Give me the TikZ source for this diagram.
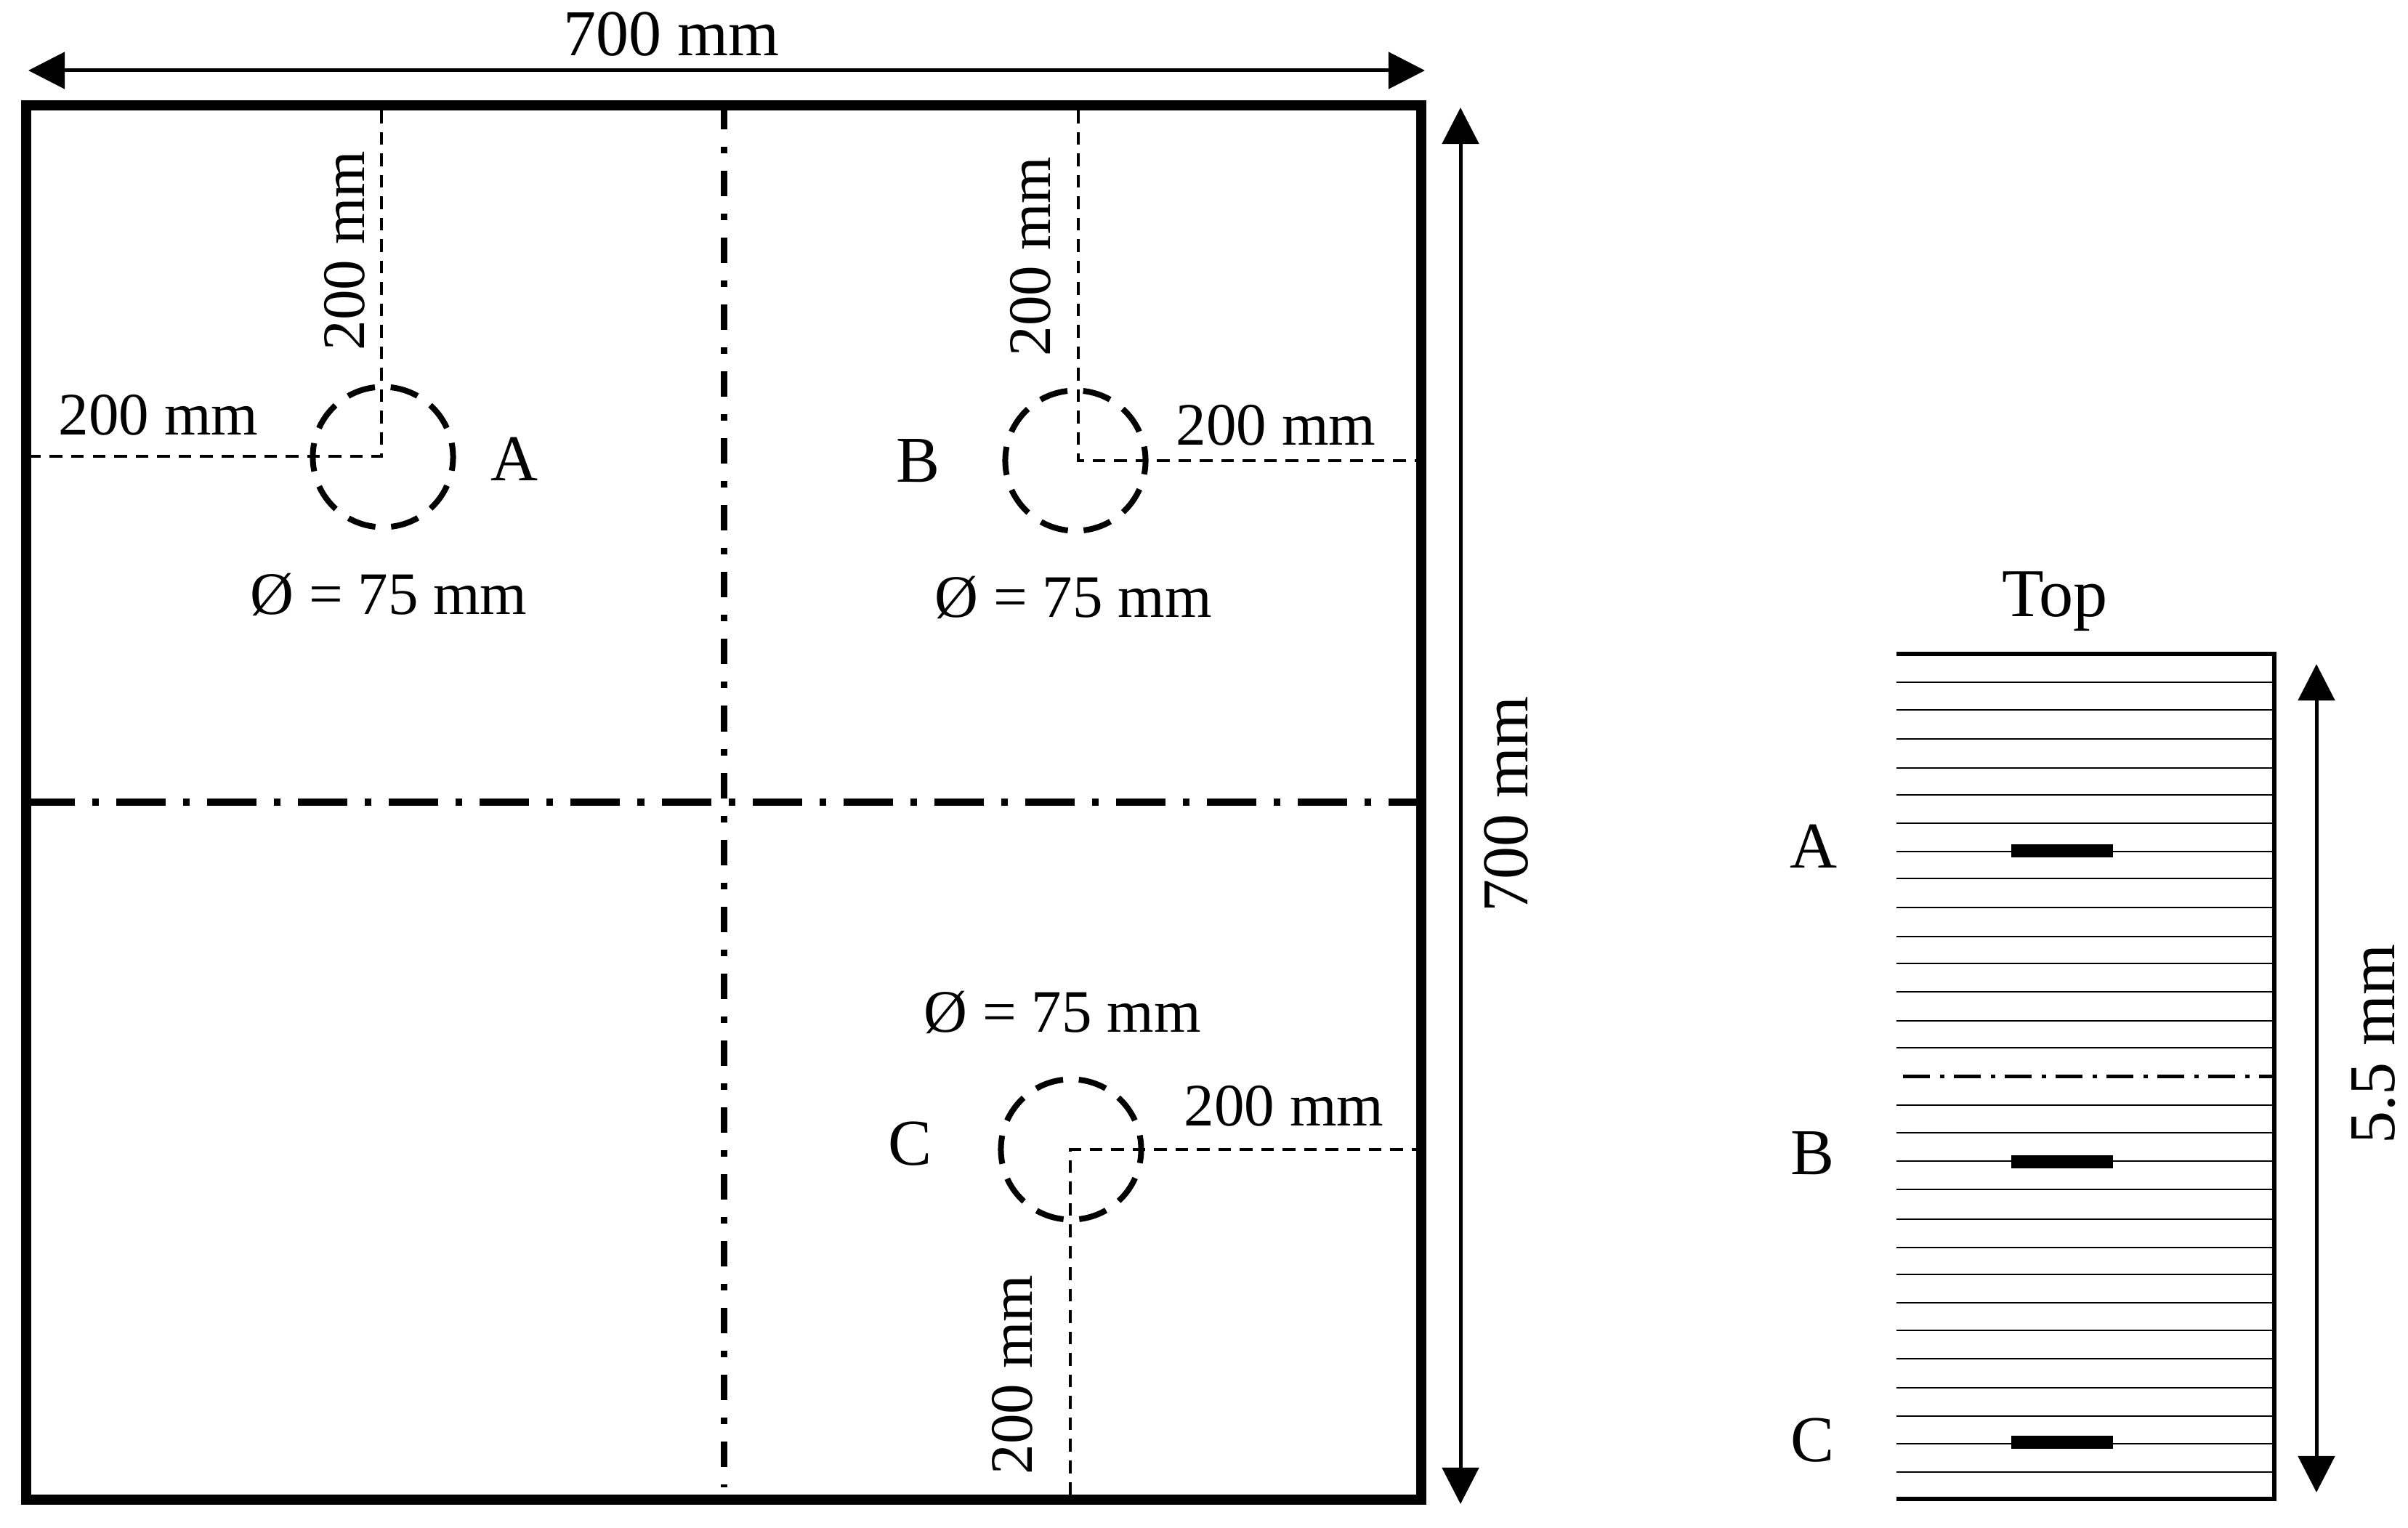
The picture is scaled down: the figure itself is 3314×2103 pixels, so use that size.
\documentclass[tikz,border=0pt]{standalone}
\usepackage{fontspec}
\setmainfont{Liberation Serif}
\usetikzlibrary{arrows.meta}
\begin{document}
\begin{tikzpicture}[x=0.01cm,y=-0.01cm,line cap=butt,line join=miter,
  dimline/.style={line width=0.05cm,{Triangle[length=0.5cm,width=0.5cm]}-{Triangle[length=0.5cm,width=0.5cm]}},
  guideline/.style={line width=0.045cm,dash pattern=on 0.175cm off 0.12cm},
  holeline/.style={draw,circle,inner sep=0pt,minimum size=1.93cm,line width=0.08cm,dash pattern=on 0.39cm off 0.217cm,dash phase=0.195cm},
  lbl/.style={inner sep=0pt,font=\fontsize{25.6pt}{25.6pt}\selectfont},
  sub/.style={inner sep=0pt,font=\fontsize{23.6pt}{23.6pt}\selectfont}]
\useasboundingbox (0,0) rectangle (3314,2103);
% plate
\draw[line width=0.14cm] (36,145) rectangle (1956,2064);
\coordinate (topmid) at (996,143);
\coordinate (botmid) at (996,2047);
\coordinate (leftmid) at (35,1104);
\coordinate (rightmid) at (1950,1104);
\draw[line width=0.09cm,dash pattern=on 0.35cm off 0.24cm on 0.09cm off 0.24cm] (topmid) -- (botmid);
\draw[line width=0.1cm,dash pattern=on 0.68cm off 0.24cm on 0.09cm off 0.24cm] (leftmid) -- (rightmid);
% holes
\node[holeline] (holeA) at (527,629) {};
\node[holeline] (holeB) at (1480,634) {};
\node[holeline] (holeC) at (1474,1582) {};
\coordinate (cornerA) at (525,628);
\coordinate (cornerB) at (1484,634);
\coordinate (cornerC) at (1473,1582);
\coordinate (edgeAt) at (525,152);
\coordinate (edgeAl) at (43,628);
\coordinate (edgeBt) at (1484,152);
\coordinate (edgeBr) at (1949,634);
\coordinate (edgeCr) at (1949,1582);
\coordinate (edgeCb) at (1473,2057);
\draw[guideline] (edgeAt) -- (cornerA) -- (edgeAl);
\draw[guideline] (edgeBt) -- (cornerB) -- (edgeBr);
\draw[guideline] (edgeCb) -- (cornerC) -- (edgeCr);
% dimensions
\coordinate (widthL) at (39,97);
\coordinate (widthR) at (1961,97);
\coordinate (heightT) at (2010,148);
\coordinate (heightB) at (2010,2070);
\draw[dimline] (widthL) -- (widthR);
\draw[dimline] (heightT) -- (heightB);
\node[lbl] (lblWidth) at (924,47) {700 mm};
\node[lbl,rotate=90] (lblHeight) at (2073,1107) {700 mm};
\node[sub,rotate=90] (lblAt) at (474,345) {200 mm};
\node[sub] (lblAl) at (218,571) {200 mm};
\node[sub,rotate=90] (lblBt) at (1418,353) {200 mm};
\node[sub] (lblBr) at (1756,585) {200 mm};
\node[sub] (lblCr) at (1767,1522) {200 mm};
\node[sub,rotate=90] (lblCb) at (1393,1892) {200 mm};
\node[lbl] (nameA) at (708,632) {A};
\node[lbl] (nameB) at (1264,634) {B};
\node[lbl] (nameC) at (1253,1574) {C};
\node[sub] (diamA) at (535,818) {Ø = 75 mm};
\node[sub] (diamB) at (1477,822) {Ø = 75 mm};
\node[sub] (diamC) at (1462,1393) {Ø = 75 mm};
% section
\foreach \y in {939,977,1017,1057,1094,1133,1172,1209,1249,1289,1326,1365,1405,1442,1521,1559,1598,1637,1678,1717,1754,1793,1831,1870,1910,1949,1987,2026}
  \draw[line width=0.027cm] (2610,\y) -- (3130,\y);
\draw[line width=0.055cm] (2610,900) -- (3130,900) -- (3130,2063) -- (2610,2063);
\coordinate (midL) at (2619,1481);
\coordinate (midR) at (3130,1481);
\draw[line width=0.05cm,dash pattern=on 0.37cm off 0.135cm on 0.06cm off 0.135cm] (midL) -- (midR);
\fill (2768,1162) rectangle (2908,1180);
\fill (2768,1590) rectangle (2908,1608);
\fill (2768,1976) rectangle (2908,1994);
\coordinate (thickT) at (3188,914);
\coordinate (thickB) at (3188,2054);
\draw[dimline] (thickT) -- (thickB);
\node[lbl,font=\fontsize{26.8pt}{26.8pt}\selectfont] (top) at (2828,828) {Top};
\node[lbl] (layerA) at (2496,1165) {A};
\node[lbl] (layerB) at (2494,1587) {B};
\node[lbl] (layerC) at (2494,1982) {C};
\node[lbl,rotate=90] (lblThick) at (3267,1437) {5.5 mm};
\end{tikzpicture}
\end{document}
